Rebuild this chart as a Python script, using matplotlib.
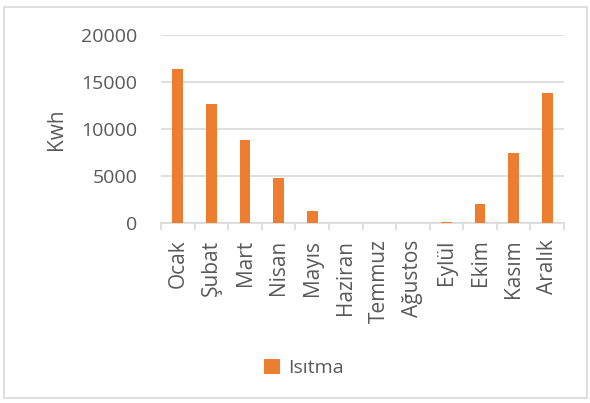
import numpy as np
import matplotlib.pyplot as plt
from matplotlib.patches import Rectangle

months = ['Ocak', 'Şubat', 'Mart', 'Nisan', 'Mayıs', 'Haziran', 'Temmuz',
          'Ağustos', 'Eylül', 'Ekim', 'Kasım', 'Aralık']
heating = [16400, 12700, 8830, 4790, 1280, 0, 0, 0, 50, 2030, 7450, 13850]
y_ticks = [0, 5000, 10000, 15000, 20000]

orange = '#ED7D31'
grey_text = '#595959'
grey_line = '#D9D9D9'

plt.rcParams['font.family'] = ['Open Sans', 'DejaVu Sans']

fig = plt.figure(figsize=(5.9, 4.03), dpi=100)
ax = fig.add_axes([0.273, 0.447, 0.683, 0.466])

x = np.arange(len(months))
ax.bar(x, heating, width=0.32, color=orange, label='Isıtma', zorder=3)

ax.set_xlim(-0.5, len(months) - 0.5)
ax.set_ylim(0, 20000)
ax.set_yticks(y_ticks)
ax.set_yticklabels([str(v) for v in y_ticks], fontsize=14, color=grey_text)
ax.yaxis.grid(True, color=grey_line, linewidth=1.2, zorder=0)
ax.tick_params(axis='y', length=0, pad=17)

# month names sit between the category boundary ticks
ax.set_xticks(x)
ax.set_xticklabels(months, rotation=90, fontsize=15, color=grey_text)
ax.tick_params(axis='x', length=0, pad=12)
ax.set_xticks(np.arange(len(months) + 1) - 0.5, minor=True)
ax.tick_params(axis='x', which='minor', length=5, color=grey_line, width=1.2)

for side in ['top', 'right', 'left']:
    ax.spines[side].set_visible(False)
ax.spines['bottom'].set_color(grey_line)
ax.spines['bottom'].set_linewidth(1.2)

ax.set_ylabel('Kwh', fontsize=15, color=grey_text, labelpad=10)

fig.legend(loc='center', bbox_to_anchor=(0.515, 0.087), frameon=False,
           fontsize=14, labelcolor=grey_text, handlelength=0.8,
           handleheight=0.8, handletextpad=0.4)

# light frame around the whole chart
fig.patches.append(Rectangle((0.007, 0.012), 0.988, 0.97, transform=fig.transFigure,
                             fill=False, edgecolor=grey_line, linewidth=1.2))

fig.savefig('out.png', dpi=100)
